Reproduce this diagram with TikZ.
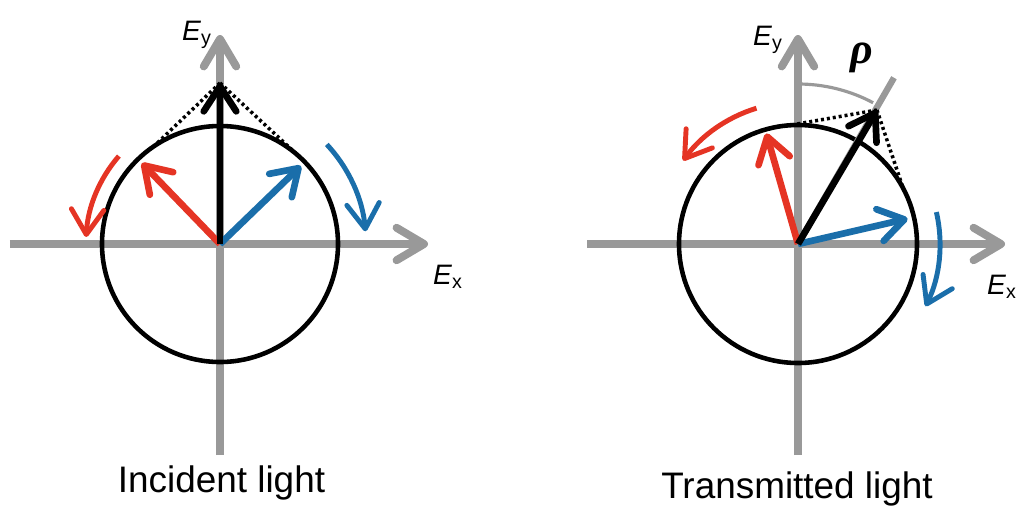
\documentclass[tikz,border=0pt]{standalone}
\usepackage{fontspec}
\setmainfont{Liberation Sans}
\newfontfamily\rhofont{Liberation Serif}
\usetikzlibrary{arrows.meta,positioning,calc}
\definecolor{axisgray}{RGB}{153,153,153}
\definecolor{vred}{RGB}{229,52,36}
\definecolor{vblue}{RGB}{26,110,170}

\begin{document}
\begin{tikzpicture}[
  every node/.style={font=\fontsize{16}{18}\selectfont},
  axis/.style={draw=axisgray, line width=4.5pt, -{Straight Barb[length=5.5mm,width=6.5mm,round]}},
  vec/.style={line width=3.8pt, -{Straight Barb[length=5mm,width=6.5mm,round]}},
  turn/.style={line width=2.8pt, -{Straight Barb[length=5mm,width=6.5mm,round]}},
  ring/.style={draw=black, line width=2.6pt},
  guide/.style={draw=black, line width=2pt, dash pattern=on 1.7pt off 1.7pt},
  caption/.style={font=\fontsize{21}{25}\selectfont, anchor=base}
]
\useasboundingbox (-4.4,-5.3) rectangle (15.98,4.88);

% incident light
\coordinate (o1) at (0,0);
\coordinate (xl1) at (-4.2,0);
\coordinate (xr1) at (4.16,0);
\coordinate (yb1) at (0,-4.22);
\coordinate (yt1) at (0,4.18);
\coordinate (sum1) at (0,3.22);
\coordinate (red1) at (134:2.25);
\coordinate (blue1) at (44:2.25);
\coordinate (dl1) at (124:2.36);
\coordinate (dr1) at (46:2.36);
\coordinate (rs1) at (139:2.68);
\coordinate (bs1) at (43:2.92);
\draw[axis] (xl1) -- (xr1);
\draw[axis] (yb1) -- (yt1);
\draw[ring] (o1) circle[radius=2.36];
\draw[guide] (sum1) -- (dl1);
\draw[guide] (sum1) -- (dr1);
\draw[vec, vred] (o1) -- (red1);
\draw[vec, vblue] (o1) -- (blue1);
\draw[vec, black] (o1) -- (sum1);
\draw[turn, vred] (rs1) arc[start angle=139, end angle=177, radius=2.68];
\draw[turn, vblue] (bs1) arc[start angle=43, end angle=5, radius=2.92];
\node[anchor=west] (ex1) at (4.14,-0.66) {\textit{E}\textsubscript{x}};
\node[anchor=west] (ey1) at (-0.88,4.18) {\textit{E}\textsubscript{y}};
\node[caption] (cap1) at (0.03,-4.96) {Incident light};

% transmitted light
\begin{scope}[shift={(11.56,0)}]
\coordinate (o2) at (0,0);
\coordinate (xl2) at (-4.22,0);
\coordinate (xr2) at (4.14,0);
\coordinate (yb2) at (0,-4.22);
\coordinate (yt2) at (0,4.18);
\coordinate (sum2) at (59.5:3.11);
\coordinate (tilt2) at (60:3.84);
\coordinate (red2) at (106:2.3);
\coordinate (blue2) at (13:2.25);
\coordinate (dl2) at (94:2.38);
\coordinate (dr2) at (28:2.38);
\coordinate (rho2) at (90:3.2);
\coordinate (rs2) at (107:2.84);
\coordinate (bs2) at (13:2.84);
\draw[axis] (xl2) -- (xr2);
\draw[axis] (yb2) -- (yt2);
\draw[ring] (o2) circle[radius=2.38];
\draw[draw=axisgray, line width=3.6pt] (o2) -- (tilt2);
\draw[draw=axisgray, line width=1.8pt] (rho2) arc[start angle=90, end angle=62, radius=3.2];
\draw[guide] (sum2) -- (dl2);
\draw[guide] (sum2) -- (dr2);
\draw[vec, vred] (o2) -- (red2);
\draw[vec, vblue] (o2) -- (blue2);
\draw[vec, black] (o2) -- (sum2);
\draw[turn, vred] (rs2) arc[start angle=107, end angle=144, radius=2.84];
\draw[turn, vblue] (bs2) arc[start angle=13, end angle=-26, radius=2.84];
\node (rho) at (1.28,3.72) {\rhofont\fontsize{25}{27}\selectfont\bfseries\itshape ρ};
\node[anchor=east, inner xsep=1pt] (ex2) at (4.42,-0.86) {\textit{E}\textsubscript{x}};
\node[anchor=west] (ey2) at (-1.02,4.08) {\textit{E}\textsubscript{y}};
\node[caption] (cap2) at (-0.02,-5.08) {Transmitted light};
\end{scope}
\end{tikzpicture}
\end{document}
